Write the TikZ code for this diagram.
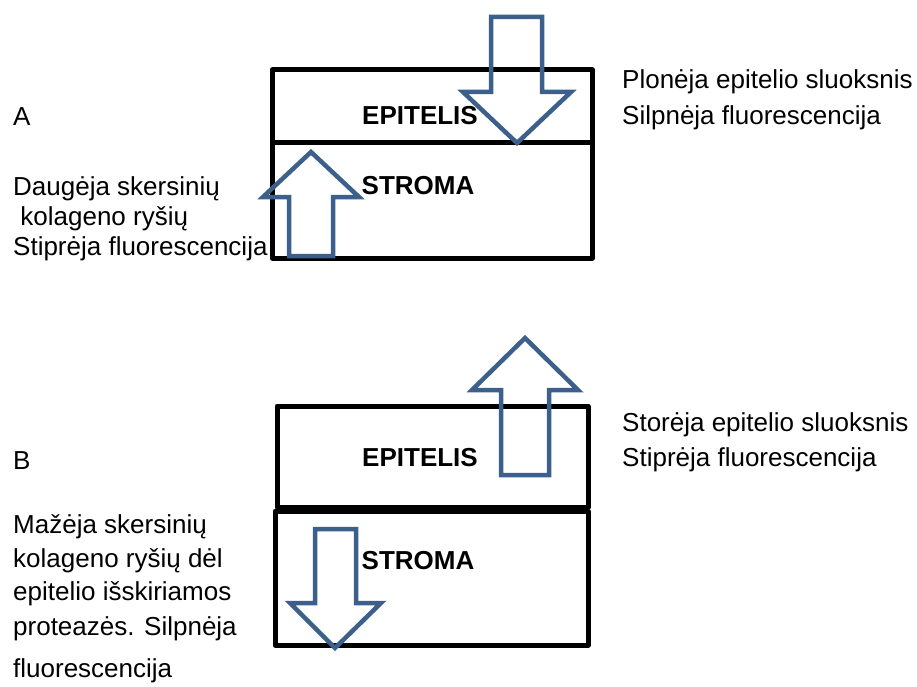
\documentclass[tikz,border=0pt]{standalone}
\usepackage{fontspec}
\setmainfont{Liberation Sans}
\definecolor{arrowblue}{RGB}{60,96,139}
\begin{document}
\begin{tikzpicture}[x=1pt,y=-1pt,
  boxline/.style={draw=black,line width=5pt,line join=round},
  bigarrow/.style={draw=arrowblue,line width=4.5pt,line join=miter},
  lbl/.style={anchor=base west,inner sep=0pt,font=\fontsize{26}{31}\selectfont},
  layer/.style={inner sep=0pt,font=\fontsize{26}{31}\selectfont\bfseries}]
\useasboundingbox (0,0) rectangle (917,687);
% ---- A ----
\draw[boxline] (272,70) rectangle (592,258);
\draw[boxline] (272,143) -- (592,143);
\node[layer] (epiA) at (420,116) {EPITELIS};
\node[layer] (strA) at (418,186) {STROMA};
\draw[bigarrow] (491,17) -- (542,17) -- (542,92) -- (571,92) -- (517,143) -- (463,92) -- (491,92) -- cycle;
\draw[bigarrow] (289,256) -- (289,197) -- (263,197) -- (311,152) -- (359,197) -- (333,197) -- (333,256) -- cycle;
\node[lbl] (A) at (13,126) {A};
\node[lbl] (pl1) at (622,89) {Plonėja epitelio sluoksnis};
\node[lbl] (pl2) at (622,125) {Silpnėja fluorescencija};
\node[lbl] (da1) at (13,195) {Daugėja skersinių};
\node[lbl] (da2) at (13,225) {\ kolageno ryšių};
\node[lbl] (da3) at (13,255) {Stiprėja fluorescencija};
% ---- B ----
\draw[boxline] (277,406) rectangle (588,507);
\draw[boxline] (275,511) rectangle (588,645);
\node[layer] (epiB) at (420,458) {EPITELIS};
\node[layer] (strB) at (418,561) {STROMA};
\draw[bigarrow] (501,475) -- (501,390) -- (472,390) -- (525,338) -- (578,390) -- (549,390) -- (549,475) -- cycle;
\draw[bigarrow] (315,529) -- (356,529) -- (356,603) -- (381,603) -- (335,648) -- (290,603) -- (315,603) -- cycle;
\node[lbl] (B) at (13,469) {B};
\node[lbl] (st1) at (622,431) {Storėja epitelio sluoksnis};
\node[lbl] (st2) at (622,466) {Stiprėja fluorescencija};
\node[lbl] (ma1) at (13,533) {Mažėja skersinių};
\node[lbl] (ma2) at (13,567) {kolageno ryšių dėl};
\node[lbl] (ma3) at (13,600) {epitelio išskiriamos};
\node[lbl] (ma4) at (13,635) {proteazės. Silpnėja};
\node[lbl] (ma5) at (13,677) {fluorescencija};
\end{tikzpicture}
\end{document}
